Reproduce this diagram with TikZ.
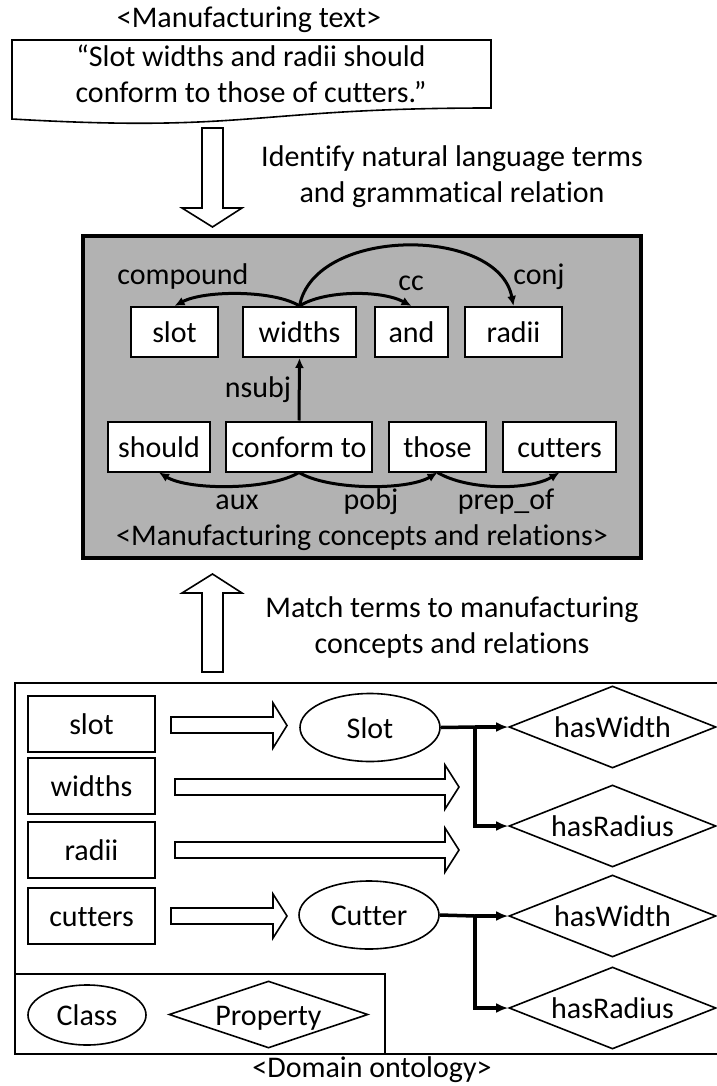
\documentclass[tikz,border=0pt]{standalone}
\usepackage{fontspec}
\setmainfont{Carlito}[Ligatures={NoCommon}]
\usetikzlibrary{shapes.geometric,arrows.meta}

\begin{document}
\begin{tikzpicture}[x=1pt,y=-1pt,font=\fontsize{30}{36}\selectfont]
    \tikzstyle{word}=[
        draw = black,
        line width = 2pt,
        fill = white,
        inner sep = 0pt,
        text height = 24pt,
        text depth = 3pt,
        minimum height = 50pt
    ]
    \tikzstyle{term}=[
        draw = black,
        line width = 2pt,
        fill = white,
        inner sep = 0pt,
        text height = 24pt,
        text depth = 3pt,
        minimum width = 127pt,
        minimum height = 56pt
    ]
    \tikzstyle{cls}=[
        draw = black,
        line width = 1.6pt,
        ellipse,
        inner sep = 0pt,
        text height = 24pt,
        text depth = 3pt
    ]
    \tikzstyle{prop}=[
        draw = black,
        line width = 1.6pt,
        diamond,
        inner sep = 0pt,
        text height = 24pt,
        text depth = 3pt,
        aspect = 2.5,
        minimum width = 207pt,
        minimum height = 82pt
    ]
    \tikzstyle{dep}=[line width = 3pt, -{Latex[length=10pt,width=9pt]}]
    \tikzstyle{link}=[line width = 3.5pt, -{Latex[length=12pt,width=10pt]}]
    \tikzstyle{hollow}=[draw = black, line width = 1.6pt, fill = white]

    \useasboundingbox (0,0) rectangle (716,1086);

    % manufacturing text
    \node (mtitle) at (249,20) {<Manufacturing text>};
    \draw[line width=1.6pt] (12,40) -- (491,40) -- (491,108)
        .. controls (251,108) and (251,133) .. (12,119) -- cycle;
    \node[align=center] (mtext) at (251,74)
        {“Slot widths and radii should\\conform to those of cutters.”};

    \draw[hollow] (202,128) -- (223,128) -- (223,208) -- (242,208)
        -- (212.5,227) -- (182,208) -- (202,208) -- cycle;
    \node[align=center] (identify) at (452,177)
        {Identify natural language terms\\and grammatical relation};

    % concepts and relations
    \node[draw=black, line width=3.5pt, fill=black!30, minimum width=558pt,
        minimum height=322pt] (concepts) at (362,397) {};

    \node[word, minimum width=87pt]  (slot)    at (174.5,332) {slot};
    \node[word, minimum width=113pt] (widths)  at (299.5,332) {widths};
    \node[word, minimum width=73pt]  (and)     at (411.5,332) {and};
    \node[word, minimum width=97pt]  (radii)   at (513.5,332) {radii};
    \node[word, minimum width=102pt] (should)  at (159,446.5) {should};
    \node[word, minimum width=146pt] (conform) at (299,446.5) {conform to};
    \node[word, minimum width=97pt]  (those)   at (437.5,446.5) {those};
    \node[word, minimum width=113pt] (cutters) at (559.5,446.5) {cutters};

    \draw[dep] (widths.north) .. controls +(-25,-16) and +(30,-16) .. (slot.north);
    \draw[dep] (widths.north) .. controls +(25,-16) and +(-30,-16) .. (and.north);
    \draw[dep] (widths.north) .. controls +(15,-80) and +(-15,-80) .. (radii.north);
    \draw[dep] (conform.north) -- (widths.south);
    \draw[dep] (conform.south) .. controls +(-30,18) and +(30,18) .. (should.south);
    \draw[dep] (conform.south) .. controls +(30,18) and +(-30,18) .. (those.south);
    \draw[dep] (those.south) .. controls +(30,18) and +(-30,18) .. (cutters.south);

    \node (compound) at (183,277) {compound};
    \node (cc)       at (411,283) {cc};
    \node (conj)     at (539,277) {conj};
    \node (nsubj)    at (258,390) {nsubj};
    \node (aux)      at (237,502) {aux};
    \node (pobj)     at (371,502) {pobj};
    \node (prepof)   at (506,502) {prep\_of};
    \node (ctitle)   at (362,538) {<Manufacturing concepts and relations>};

    \draw[hollow] (202,672) -- (223,672) -- (223,593) -- (242,593)
        -- (212.5,574) -- (182,593) -- (202,593) -- cycle;
    \node[align=center] (match) at (452,627)
        {Match terms to manufacturing\\concepts and relations};

    % domain ontology
    \draw[line width=2pt] (15,683) rectangle (722,1054);
    \draw[line width=2pt] (15,974) rectangle (385,1054);

    \node[term] (tslot)    at (91.5,724) {slot};
    \node[term] (twidths)  at (91.5,786) {widths};
    \node[term] (tradii)   at (91.5,850) {radii};
    \node[term] (tcutters) at (91.5,916) {cutters};

    \draw[hollow] (171,717) -- (273,717) -- (273,703) -- (287,725.5)
        -- (273,748) -- (273,733) -- (171,733) -- cycle;
    \draw[hollow] (175,779) -- (445,779) -- (445,765) -- (459,787)
        -- (445,809) -- (445,795) -- (175,795) -- cycle;
    \draw[hollow] (175,842) -- (445,842) -- (445,828) -- (459,850)
        -- (445,872) -- (445,858) -- (175,858) -- cycle;
    \draw[hollow] (171,908) -- (273,908) -- (273,894) -- (287,916)
        -- (273,938) -- (273,924) -- (171,924) -- cycle;

    \node[cls, minimum width=140pt, minimum height=68pt] (cslot)   at (370,727.5) {Slot};
    \node[cls, minimum width=140pt, minimum height=68pt] (ccutter) at (369,915) {Cutter};

    \node[prop] (sw) at (612.5,727) {hasWidth};
    \node[prop] (sr) at (612.5,826) {hasRadius};
    \node[prop] (cw) at (612.5,916) {hasWidth};
    \node[prop] (cr) at (612.5,1008) {hasRadius};

    \coordinate (js) at (475,727);
    \coordinate (jc) at (475,916);
    \draw[line width=3.5pt] (cslot.east) -- (js);
    \draw[link] (js) -- (sw.west);
    \draw[link] (js) |- (sr.west);
    \draw[line width=3.5pt] (ccutter.east) -- (jc);
    \draw[link] (jc) -- (cw.west);
    \draw[link] (jc) |- (cr.west);

    \node[cls, minimum width=118pt, minimum height=60pt] (lclass) at (87,1015) {Class};
    \node[prop, aspect=3, minimum width=199pt, minimum height=67pt] (lprop) at (268.5,1014.5) {Property};

    \node (otitle) at (372,1070) {<Domain ontology>};
\end{tikzpicture}
\end{document}
